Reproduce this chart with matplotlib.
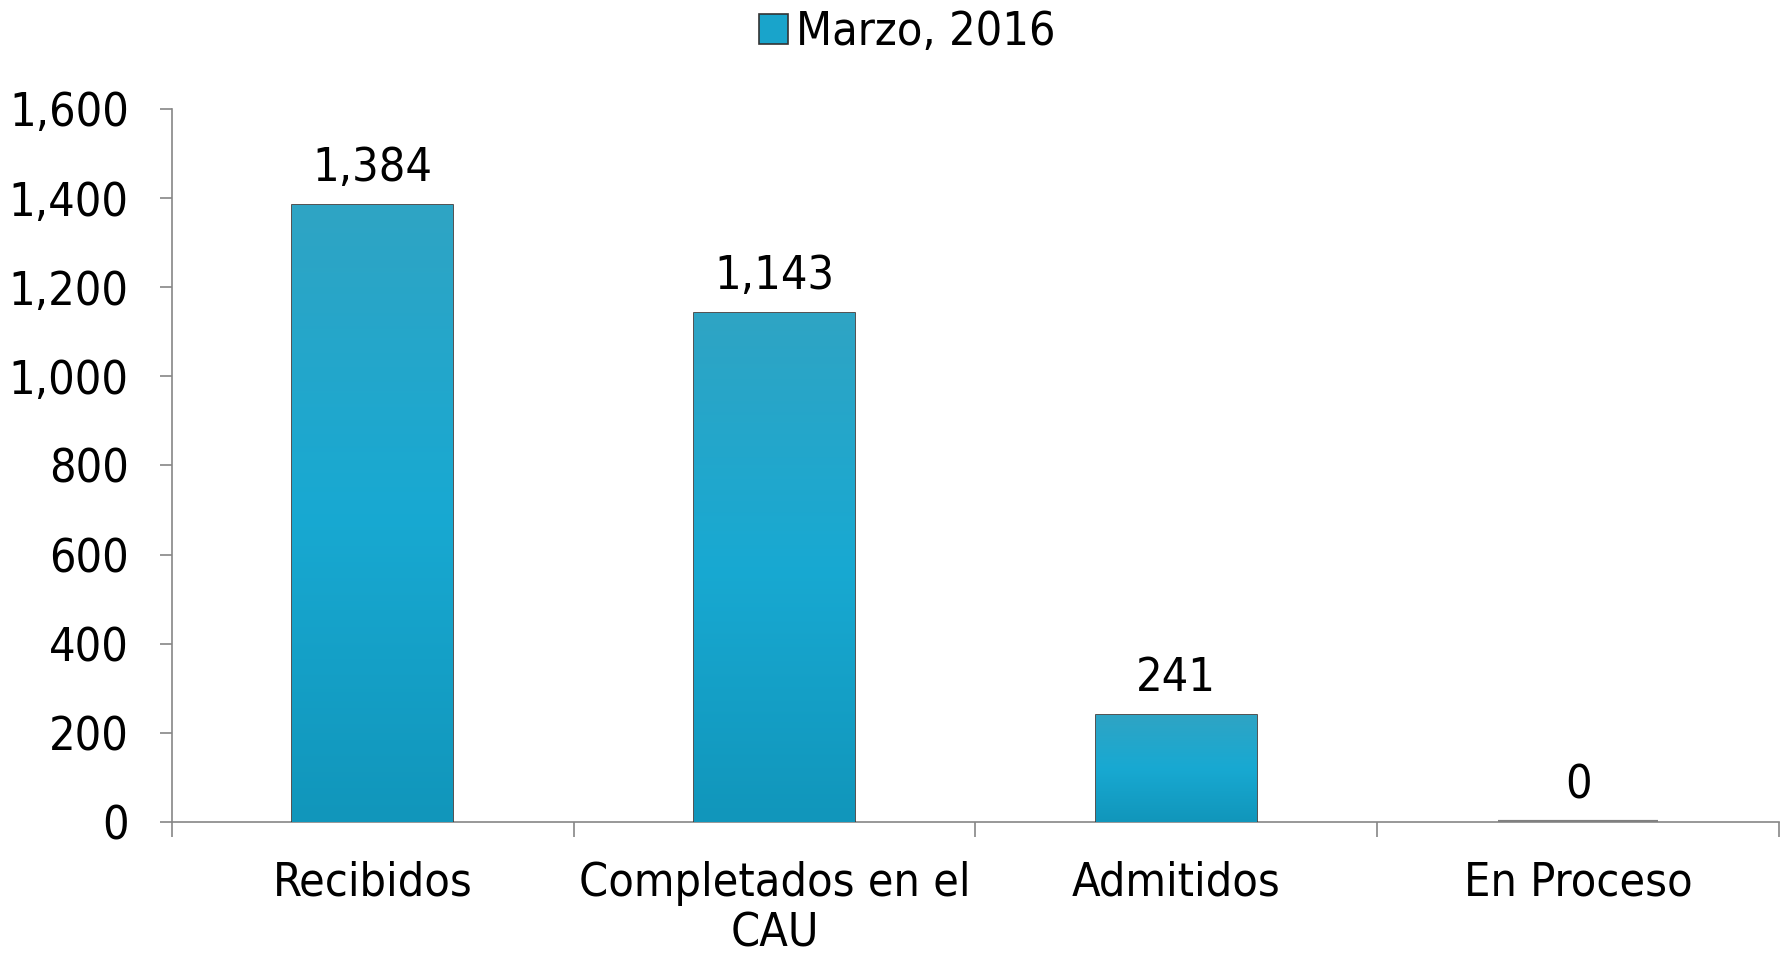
import matplotlib
matplotlib.use('Agg')
import matplotlib.pyplot as plt
import numpy as np
from matplotlib.ticker import FuncFormatter
from matplotlib.colors import LinearSegmentedColormap

# Chart data
categories = ['Recibidos', 'Completados en el\nCAU', 'Admitidos', 'En Proceso']
values = [1384, 1143, 241, 0]
series_name = 'Marzo, 2016'

plt.rcParams['font.family'] = ['DejaVu Sans']
plt.rcParams['font.stretch'] = 'condensed'
FS = 33.5

fig = plt.figure(figsize=(17.89, 9.56), dpi=100)
ax = fig.add_axes([0.0961, 0.1402, 0.8983, 0.7458])

x = np.arange(len(categories))
bars = ax.bar(x, values, width=0.4, color='#19a4cb', edgecolor='#333333',
              linewidth=1.2, label=series_name, zorder=3)

# zero-height bar shows as a gray stroke on the axis
for b, v in zip(bars, values):
    if v == 0:
        b.set_edgecolor('#808080')
        b.set_linewidth(3)

# vertical gradient inside each bar
grad = np.linspace(0, 1, 256).reshape(-1, 1)
cmap = LinearSegmentedColormap.from_list('bar', ['#1196bb', '#18a9d2', '#2fa4c4'])
for b, v in zip(bars, values):
    if v == 0:
        continue
    im = ax.imshow(grad, cmap=cmap, aspect='auto', origin='lower',
                   extent=[b.get_x(), b.get_x() + b.get_width(), 0, v], zorder=3)
    im.set_clip_path(b)

for xi, v in zip(x, values):
    ax.annotate(f'{v:,}', (xi, v), xytext=(0, 10), textcoords='offset points',
                ha='center', va='bottom', fontsize=FS)

ax.set_xlim(-0.5, len(categories) - 0.5)
ax.set_ylim(0, 1600)
ax.set_yticks(range(0, 1601, 200))
ax.yaxis.set_major_formatter(FuncFormatter(lambda v, p: f'{int(v):,}'))
ax.tick_params(axis='y', labelsize=FS, length=9, width=1.2, color='#868686', pad=22)

ax.set_xticks(np.arange(-0.5, len(categories), 1.0))
ax.set_xticklabels([])
ax.tick_params(axis='x', which='major', length=11, width=1.2, color='#868686')
ax.set_xticks(x, minor=True)
ax.set_xticklabels(categories, minor=True, fontsize=FS, linespacing=1.15)
ax.tick_params(axis='x', which='minor', length=0, pad=28)

for s in ['top', 'right']:
    ax.spines[s].set_visible(False)
for s in ['left', 'bottom']:
    ax.spines[s].set_color('#868686')
    ax.spines[s].set_linewidth(1.2)

fig.legend(handles=[bars[0]], labels=[series_name], loc='center',
           bbox_to_anchor=(907 / 1789, 1 - 33 / 956), frameon=False, fontsize=FS,
           handlelength=0.62, handleheight=0.62, handletextpad=0.17,
           borderpad=0, borderaxespad=0)

fig.savefig('out.png', dpi=100, facecolor='white')
